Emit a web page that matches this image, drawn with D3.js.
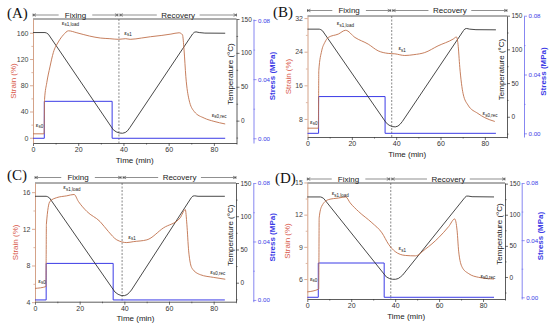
<!DOCTYPE html>
<html>
<head>
<meta charset="utf-8">
<script src="https://cdn.jsdelivr.net/npm/d3@7"></script>
<style>
  body { margin: 0; background: #fff; }
  svg { display: block; font-family: Arial, "Liberation Sans", sans-serif; }
</style>
</head>
<body>
<svg id="chart" width="550" height="328"></svg>
<script>
// ---- data : [time (min), value] ----
const strainA = [[0,6],[4.9,6],[5.0,30],[5.1,58],[6.1,84],[7.5,108],[9,130],[11.2,146],[13.5,157],[15.7,163],[19.4,160],[25,155],[29.8,152],[34,151],[37.8,150],[41,151],[43,150],[48,152],[52,154],[57,156],[61,158],[64.6,160],[66.1,157],[66.8,134],[67.6,93],[69,58],[71.3,40],[75.7,30],[80,25],[85,21]];
const tempA = [[0,130],[5.3,130],[6,129.3],[6.8,127.5],[35.5,-13.5],[36.8,-16.5],[38.2,-18.2],[39.6,-18.6],[40.8,-17.5],[41.8,-15],[42.8,-10.5],[70.6,128],[71.3,130.3],[72.1,131],[73.5,130],[76,129.2],[85,129]];
const stressA = [[0,0],[5,0.025],[35,0],[85,0]];

const strainB = [[0,5.8],[4.9,5.8],[5.0,12],[5.1,19.5],[6.4,24.2],[7.8,26.2],[9.4,27.4],[13.9,28.2],[17.2,29.1],[21.4,27.4],[27.4,25.8],[31.9,24.2],[36.4,23.6],[39.4,23.5],[43.9,23.1],[48,23.3],[52.9,23.8],[58.9,25.4],[65.7,27],[67.2,27.5],[67.9,25.8],[68.7,20.3],[70.2,14],[72.4,11.3],[76.9,9.3],[80,8.3],[84.5,7.4]];
const tempB = [[0,130],[5.3,130],[6,129.3],[6.8,127.5],[35.5,-9],[36.8,-12.5],[38.2,-14.5],[39.6,-15],[40.8,-13.8],[41.8,-11],[42.8,-7],[70.4,128],[71,130.3],[71.8,131],[73.2,130],[76,129.2],[85,129]];
const stressB = [[0,0],[5,0.025],[35,0],[85,0]];

const strainC = [[0,5.5],[4.9,5.7],[5.0,9],[5.1,12.5],[6.7,15.0],[9.7,15.4],[14.2,15.6],[17.5,15.75],[19.4,15.0],[23.2,13.9],[29.1,12.8],[32.9,11.7],[36.6,10.8],[41.1,10.5],[44,10.6],[50.1,10.8],[57.5,12.1],[65,13.2],[67.3,14.1],[68,12.5],[68.8,9.6],[70.3,7.7],[74,7.0],[80,6.7],[85.2,6.5]];
const tempC = [[0,130],[5,130],[5.7,129.3],[6.5,127.5],[35.8,-14],[37.2,-17.5],[38.6,-19.3],[40,-19.5],[41.2,-18],[42.2,-15],[43.2,-11],[70,128],[70.7,130.3],[71.5,130.7],[73,130],[85,130]];
const stressC = [[0,0],[5,0.025],[35,0],[85,0]];

const strainD = [[0,4.8],[5.2,5.07],[5.3,8],[5.4,11.7],[6.6,12.8],[9.6,13.4],[14.2,13.55],[17.5,13.65],[19.5,13.1],[23.3,12.3],[29.4,11.25],[34,10.3],[37,9.24],[40,8.56],[44.6,8.2],[49.2,8.16],[53.7,8.78],[59.8,9.86],[64.4,10.9],[67.1,11.6],[68.2,10.5],[68.9,8.6],[70.5,7.1],[73.5,6.5],[78,6.16],[85,6.0]];
const tempD = [[0,128.6],[6,128.6],[6.7,127.8],[7.5,126],[36,0],[37.4,-2.5],[38.8,-3.7],[40.2,-3.7],[41.4,-2.5],[42.4,0],[43.4,3],[71.8,128],[72.4,129.8],[73.2,130],[75,129],[85,128.6]];
const stressD = [[0,0],[5,0.024],[35,0],[85,0]];

// ---- ticks ----
const timeTicks = [0,20,40,60,80];
const timeMinor = [10,30,50,70,90];
const tempTicks = [0,50,100,150];
const tempMinor = [-25,25,75,125];
const stressTicks = [0,0.04,0.08];
const stressMinor = [0.02,0.06];
const strainTicksA = [0,40,80,120,160], strainMinorA = [20,60,100,140];
const strainTicksB = [8,16,24,32], strainMinorB = [12,20,28];
const strainTicksC = [4,8,12,16], strainMinorC = [6,10,14];
const strainTicksD = [6,9,12,15], strainMinorD = [7.5,10.5,13.5];

// ---- point labels [time, strain, main, sub] ----
const labelsA = [[1.2,17,'ε','s0'],[12.7,172,'ε','s1,load'],[40.4,157,'ε','s1'],[79,32,'ε','s0,rec']];
const labelsB = [[1.1,6.8,'ε','s0'],[13.2,30.3,'ε','s1,load'],[41,24.3,'ε','s1'],[79,8.9,'ε','s0,rec']];
const labelsC = [[1.5,6.1,'ε','s0'],[12.7,16.3,'ε','s1,load'],[41.8,10.9,'ε','s1'],[78.5,7.1,'ε','s0,rec']];
const labelsD = [[1.2,5.85,'ε','s0'],[11.1,13.8,'ε','s1,load'],[41.5,8.7,'ε','s1'],[78.8,6.1,'ε','s0,rec']];

// ---- panel layout ----
const panels = [
  { name:'(A)', nx:7, ny:18, box:{l:33, r:236.5, t:19, b:143}, sx:253.5, ay:15,
    strain:strainA, temp:tempA, stress:stressA, labels:labelsA,
    sDom:[-8,181], sTicks:strainTicksA, sMinor:strainMinorA,
    tDom:[-33,150], pDom:[-0.0032,0.0807], sw:38 },
  { name:'(B)', nx:273, ny:17, box:{l:307.5, r:507, t:16, b:137}, sx:524, ay:10.5,
    strain:strainB, temp:tempB, stress:stressB, labels:labelsB,
    sDom:[3.7,32.5], sTicks:strainTicksB, sMinor:strainMinorB,
    tDom:[-30,149.5], pDom:[-0.0025,0.0798], sw:38 },
  { name:'(C)', nx:7, ny:180, box:{l:35, r:236, t:183, b:301.7}, sx:253.3, ay:177.5,
    strain:strainC, temp:tempC, stress:stressC, labels:labelsC,
    sDom:[4.05,17], sTicks:strainTicksC, sMinor:strainMinorC,
    tDom:[-28.6,150], pDom:[-0.0012,0.08], sw:39 },
  { name:'(D)', nx:275, ny:183, box:{l:307.3, r:505, t:183, b:299}, sx:521.7, ay:179,
    strain:strainD, temp:tempD, stress:stressD, labels:labelsD,
    sDom:[4.14,14.95], sTicks:strainTicksD, sMinor:strainMinorD,
    tDom:[-35.4,151], pDom:[-0.0012,0.08], sw:38 }
];

const cStrain = '#c0704c', cStrainTxt = '#d8584a', cAxisS = '#c98a6a';
const cTemp = '#333333';
const cStress = '#3b3be6', cStressAxis = '#6868ee';

const svg = d3.select('#chart');

function styleAxis(sel, col, txtCol, fs) {
  sel.select('.domain').attr('stroke', col).attr('stroke-width', 0.8);
  sel.selectAll('.tick line').attr('stroke', col).attr('stroke-width', 0.7);
  sel.selectAll('.tick text').attr('fill', txtCol).attr('font-size', fs || '7px');
}
function minor(g, axis, col) {
  g.append('g').call(axis.tickFormat('').tickSize(1.6).tickSizeOuter(0))
    .call(s => s.select('.domain').remove())
    .selectAll('.tick line').attr('stroke', col).attr('stroke-width', 0.6);
}

panels.forEach(p => {
  const { l, r, t, b } = p.box;
  const x = d3.scaleLinear().domain([0, 90]).range([l, r]);
  const yS = d3.scaleLinear().domain(p.sDom).range([b, t]);
  const yT = d3.scaleLinear().domain(p.tDom).range([b, t]);
  const yP = d3.scaleLinear().domain(p.pDom).range([b, t]);
  const g = svg.append('g');
  const midY = (t + b) / 2;

  // top frame
  g.append('line').attr('x1', l).attr('x2', r).attr('y1', t).attr('y2', t)
    .attr('stroke', '#333').attr('stroke-width', 0.8);

  // x axis
  const gx = g.append('g').attr('transform', `translate(0,${b})`)
    .call(d3.axisBottom(x).tickValues(timeTicks).tickSize(3).tickSizeOuter(0).tickPadding(1.5).tickFormat(d3.format('d')));
  styleAxis(gx, '#333', '#333');
  minor(g.append('g').attr('transform', `translate(0,${b})`), d3.axisBottom(x).tickValues(timeMinor), '#333');

  // strain axis (left)
  const gs = g.append('g').attr('transform', `translate(${l},0)`)
    .call(d3.axisLeft(yS).tickValues(p.sTicks).tickSize(3).tickSizeOuter(0).tickPadding(1.5).tickFormat(d3.format('d')));
  styleAxis(gs, cAxisS, '#444');
  minor(g.append('g').attr('transform', `translate(${l},0)`), d3.axisLeft(yS).tickValues(p.sMinor), cAxisS);

  // temperature axis (right frame)
  const gt = g.append('g').attr('transform', `translate(${r},0)`)
    .call(d3.axisRight(yT).tickValues(tempTicks).tickSize(3).tickSizeOuter(0).tickPadding(1.5));
  styleAxis(gt, '#333', '#333', '6.5px');
  minor(g.append('g').attr('transform', `translate(${r},0)`), d3.axisRight(yT).tickValues(tempMinor), '#333');

  // stress axis (offset right)
  const gp = g.append('g').attr('transform', `translate(${p.sx},0)`)
    .call(d3.axisRight(yP).tickValues(stressTicks).tickSize(3).tickSizeOuter(0).tickPadding(1.5).tickFormat(d3.format('.2f')));
  styleAxis(gp, cStressAxis, cStress, '6.2px');
  minor(g.append('g').attr('transform', `translate(${p.sx},0)`), d3.axisRight(yP).tickValues(stressMinor), cStressAxis);

  // axis titles
  g.append('text').attr('x', (l + r) / 2).attr('y', b + 19.5)
    .attr('text-anchor', 'middle').attr('font-size', '8px').attr('fill', '#222').text('Time (min)');
  g.append('text').attr('transform', `translate(${l - 17},${midY}) rotate(-90)`)
    .attr('text-anchor', 'middle').attr('font-size', '8px').attr('fill', cStrainTxt).text('Strain (%)');
  g.append('text').attr('transform', `translate(${r - 3.5},${midY - 7}) rotate(-90)`)
    .attr('text-anchor', 'middle').attr('font-size', '8px').attr('fill', '#222').text('Temperature (°C)');
  g.append('text').attr('transform', `translate(${p.sx + 21.5},${midY - 5}) rotate(-90)`)
    .attr('text-anchor', 'middle').attr('font-size', '8px').attr('font-weight', 'bold').attr('fill', cStress).text('Stress (MPa)');

  // dashed switch line
  g.append('line').attr('x1', x(p.sw)).attr('x2', x(p.sw)).attr('y1', t).attr('y2', b)
    .attr('stroke', '#555').attr('stroke-width', 0.7).attr('stroke-dasharray', '2,1.5');

  // curves
  const line = (ys, data, curve) => d3.line().x(d => x(d[0])).y(d => ys(d[1])).curve(curve)(data);
  g.append('path').attr('d', line(yP, p.stress, d3.curveStepAfter))
    .attr('fill', 'none').attr('stroke', cStress).attr('stroke-width', 1);
  g.append('path').attr('d', line(yT, p.temp, d3.curveLinear))
    .attr('fill', 'none').attr('stroke', cTemp).attr('stroke-width', 0.9).attr('stroke-linejoin', 'round');
  g.append('path').attr('d', line(yS, p.strain, d3.curveMonotoneX))
    .attr('fill', 'none').attr('stroke', cStrain).attr('stroke-width', 0.9);

  // epsilon labels
  p.labels.forEach(([tt, sv, m, sub]) => {
    const tx = g.append('text').attr('x', x(tt)).attr('y', yS(sv)).attr('font-size', '6px').attr('fill', '#222');
    tx.append('tspan').text(m);
    tx.append('tspan').attr('dy', 1.5).attr('font-size', '4.5px').text(sub);
  });

  // fixing / recovery arrows
  const arrow = (x1, x2, label) => {
    const y = p.ay, hw = label.length * 2.3 + 3, cx = (x1 + x2) / 2;
    const a = g.append('g').attr('stroke', '#444').attr('stroke-width', 0.6).attr('fill', 'none');
    a.append('line').attr('x1', x1).attr('x2', cx - hw).attr('y1', y).attr('y2', y);
    a.append('line').attr('x1', cx + hw).attr('x2', x2).attr('y1', y).attr('y2', y);
    a.append('path').attr('d', `M${x1 + 3},${y - 1.3}L${x1},${y}L${x1 + 3},${y + 1.3}`);
    a.append('path').attr('d', `M${x2 - 3},${y - 1.3}L${x2},${y}L${x2 - 3},${y + 1.3}`);
    a.append('line').attr('x1', x1).attr('x2', x1).attr('y1', y - 1.5).attr('y2', y + 1.5);
    a.append('line').attr('x1', x2).attr('x2', x2).attr('y1', y - 1.5).attr('y2', y + 1.5);
    g.append('text').attr('x', cx).attr('y', y + 2.8).attr('text-anchor', 'middle')
      .attr('font-size', '8px').attr('fill', '#222').text(label);
  };
  arrow(x(0), x(p.sw) - 1, 'Fixing');
  arrow(x(p.sw) + 1, x(90), 'Recovery');

  // panel label
  g.append('text').attr('x', p.nx).attr('y', p.ny)
    .attr('font-family', '"Liberation Serif", "Times New Roman", serif')
    .attr('font-size', '15px').attr('fill', '#111').text(p.name);
});
</script>
</body>
</html>
